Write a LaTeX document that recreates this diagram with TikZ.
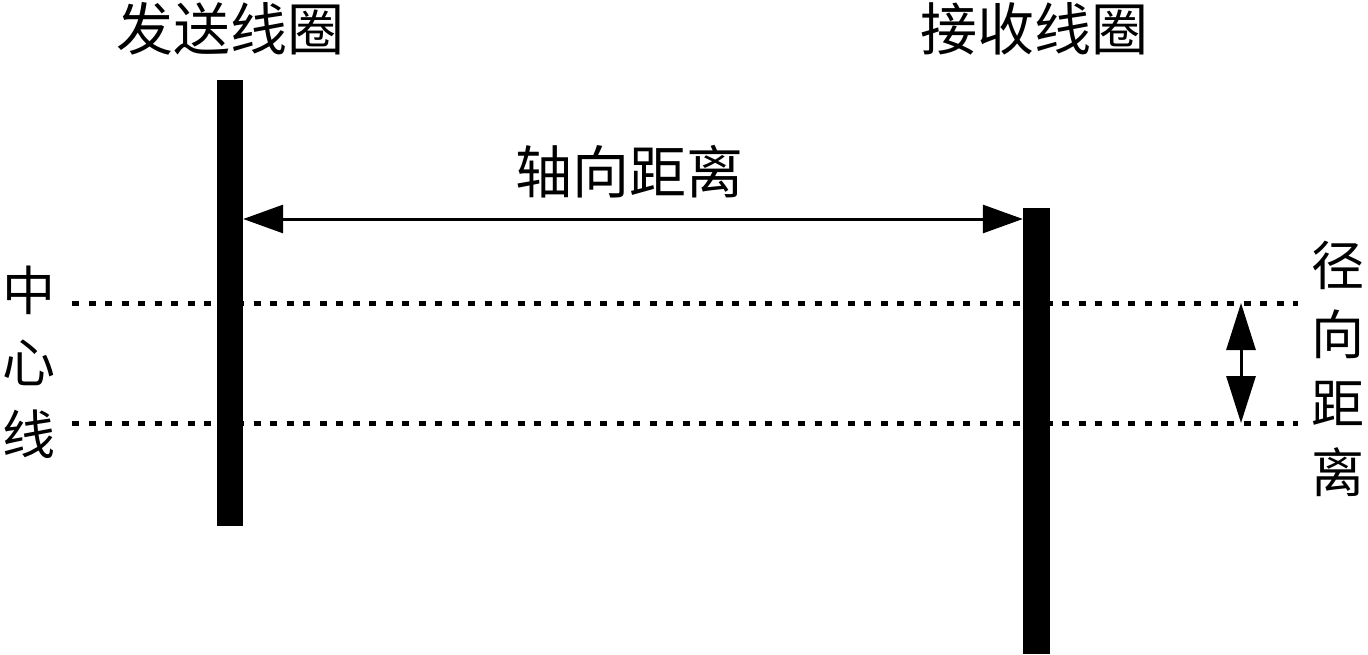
\documentclass[tikz,border=0pt]{standalone}
\usepackage{fontspec}
\newfontfamily\cjk{Noto Sans CJK SC}
\usetikzlibrary{arrows.meta}
\begin{document}
\begin{tikzpicture}[x=1pt,y=-1pt,
  coil/.style={fill=black,draw=none,inner sep=0pt,minimum width=26pt,minimum height=446pt},
  lbl/.style={font=\cjk\fontsize{57}{57}\selectfont,inner sep=0pt,text=black},
  vlbl/.style={lbl,align=center},
  centerline/.style={line width=5pt,dash pattern=on 7pt off 9.5pt},
  dimarrow/.style={line width=3pt,{Triangle[length=40pt,width=28pt]}-{Triangle[length=40pt,width=28pt]}},
  vdimarrow/.style={line width=3pt,{Triangle[length=47pt,width=29pt]}-{Triangle[length=47pt,width=29pt]}}
]
\useasboundingbox (0,0) rectangle (1368,654);
% dotted centre lines
\coordinate (c1l) at (72,303);
\coordinate (c1r) at (1298,303);
\coordinate (c2l) at (72,423);
\coordinate (c2r) at (1298,423);
\draw[centerline] (c1l) -- (c1r);
\draw[centerline] (c2l) -- (c2r);
% coils
\node[coil] (tx) at (230,303) {};
\node[coil,minimum width=27pt] (rx) at (1036.5,431) {};
% labels
\node[lbl] (txl) at (230,29) {发送线圈};
\node[lbl] (rxl) at (1034,29) {接收线圈};
\node[lbl] (axl) at (629,172) {轴向距离};
\node[vlbl,font=\cjk\fontsize{53}{72}\selectfont] (cl) at (29,362) {中\\心\\线};
\node[vlbl,font=\cjk\fontsize{53}{69}\selectfont] (rl) at (1338,369) {径\\向\\距\\离};
% axial distance
\coordinate (ay) at (0,219);
\draw[dimarrow] (tx.east |- ay) -- (rx.west |- ay);
% radial distance
\coordinate (r1) at (1241,303);
\coordinate (r2) at (1241,423);
\draw[vdimarrow] (r1) -- (r2);
\end{tikzpicture}
\end{document}
